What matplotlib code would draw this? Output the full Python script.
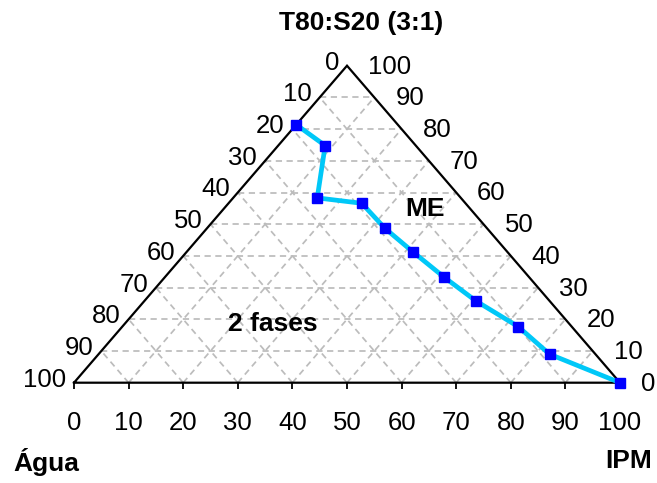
import matplotlib
matplotlib.use('Agg')
from matplotlib import pyplot as plt

plt.rcParams['font.family'] = ['Liberation Sans', 'DejaVu Sans']

# curva de fases: % IPM e % T80:S20 (o resto e agua)
ipm = [0, 8.6, 15.4, 24.4, 32.6, 41.4, 51.0, 60.7, 72.5, 82.6, 100]
t80s20 = [81.4, 74.8, 58.3, 56.6, 48.7, 41.3, 33.4, 25.8, 17.7, 9.0, 0]

ticks = [0, 10, 20, 30, 40, 50, 60, 70, 80, 90, 100]
inner = ticks[1:-1]


def tern(b, t):
    # (IPM, T80:S20) -> coordenadas no plano
    return b + t / 2.0, t


fig = plt.figure(figsize=(6.57, 4.83), dpi=100)
ax = fig.add_axes([0, 0, 1, 1])
ax.set_xlim(-74 / 5.46, (657 - 74) / 5.46)
ax.set_ylim(-100.3 / 3.17, 382.7 / 3.17)
ax.axis('off')

gridkw = dict(color='#bcbcbc', linewidth=1.25, linestyle=(0, (3.6, 2.6)), zorder=1)
for v in inner:
    # T constante (horizontal)
    x0, y0 = tern(0, v)
    x1, y1 = tern(100 - v, v)
    ax.plot([x0, x1], [y0, y1], **gridkw)
    # IPM constante
    x0, y0 = tern(v, 0)
    x1, y1 = tern(v, 100 - v)
    ax.plot([x0, x1], [y0, y1], **gridkw)
    # agua constante
    x0, y0 = tern(100 - v, 0)
    x1, y1 = tern(0, 100 - v)
    ax.plot([x0, x1], [y0, y1], **gridkw)

# triangulo
vx = [0, 100, 50, 0]
vy = [0, 0, 100, 0]
ax.plot(vx, vy, color='black', linewidth=1.6, zorder=2, solid_joinstyle='miter')

# ticks e rotulos da base
tick_len = 6 / 3.17
ax.vlines(ticks, -tick_len, 0, color='black', linewidth=1.3, zorder=2)
for v in ticks:
    ax.annotate(str(v), (v, 0), xytext=(0, -40 * 0.72), textcoords='offset points',
                ha='center', va='center', fontsize=18.5)

# lado esquerdo (agua) e lado direito (T80:S20)
for v in ticks:
    x, y = tern(0, 100 - v)
    ax.annotate(str(v), (x, y), xytext=(-8 * 0.72, 3 * 0.72), textcoords='offset points',
                ha='right', va='center', fontsize=18.5)
    x, y = tern(100 - v, v)
    ax.annotate(str(v), (x, y), xytext=(21 * 0.72, -1 * 0.72), textcoords='offset points',
                ha='left', va='center', fontsize=18.5)

xs = [tern(b, t)[0] for b, t in zip(ipm, t80s20)]
ys = [tern(b, t)[1] for b, t in zip(ipm, t80s20)]
ax.plot(xs, ys, color='#00c8f8', linewidth=3.4, zorder=3, solid_capstyle='round')
ax.plot(xs, ys, linestyle='none', marker='s', markersize=7, color='#0000ff', zorder=4)

fig.text(361 / 657, 1 - 23 / 483, 'T80:S20 (3:1)', ha='center', va='center',
         fontsize=19, fontweight='bold')
fig.text(46 / 657, 1 - 462 / 483, 'Água', ha='center', va='center',
         fontsize=19, fontweight='bold')
fig.text(629 / 657, 1 - 461 / 483, 'IPM', ha='center', va='center',
         fontsize=19, fontweight='bold')
fig.text(425 / 657, 1 - 209 / 483, 'ME', ha='center', va='center',
         fontsize=19, fontweight='bold')
fig.text(273 / 657, 1 - 324 / 483, '2 fases', ha='center', va='center',
         fontsize=19, fontweight='bold')

fig.savefig('out.png', dpi=100)
